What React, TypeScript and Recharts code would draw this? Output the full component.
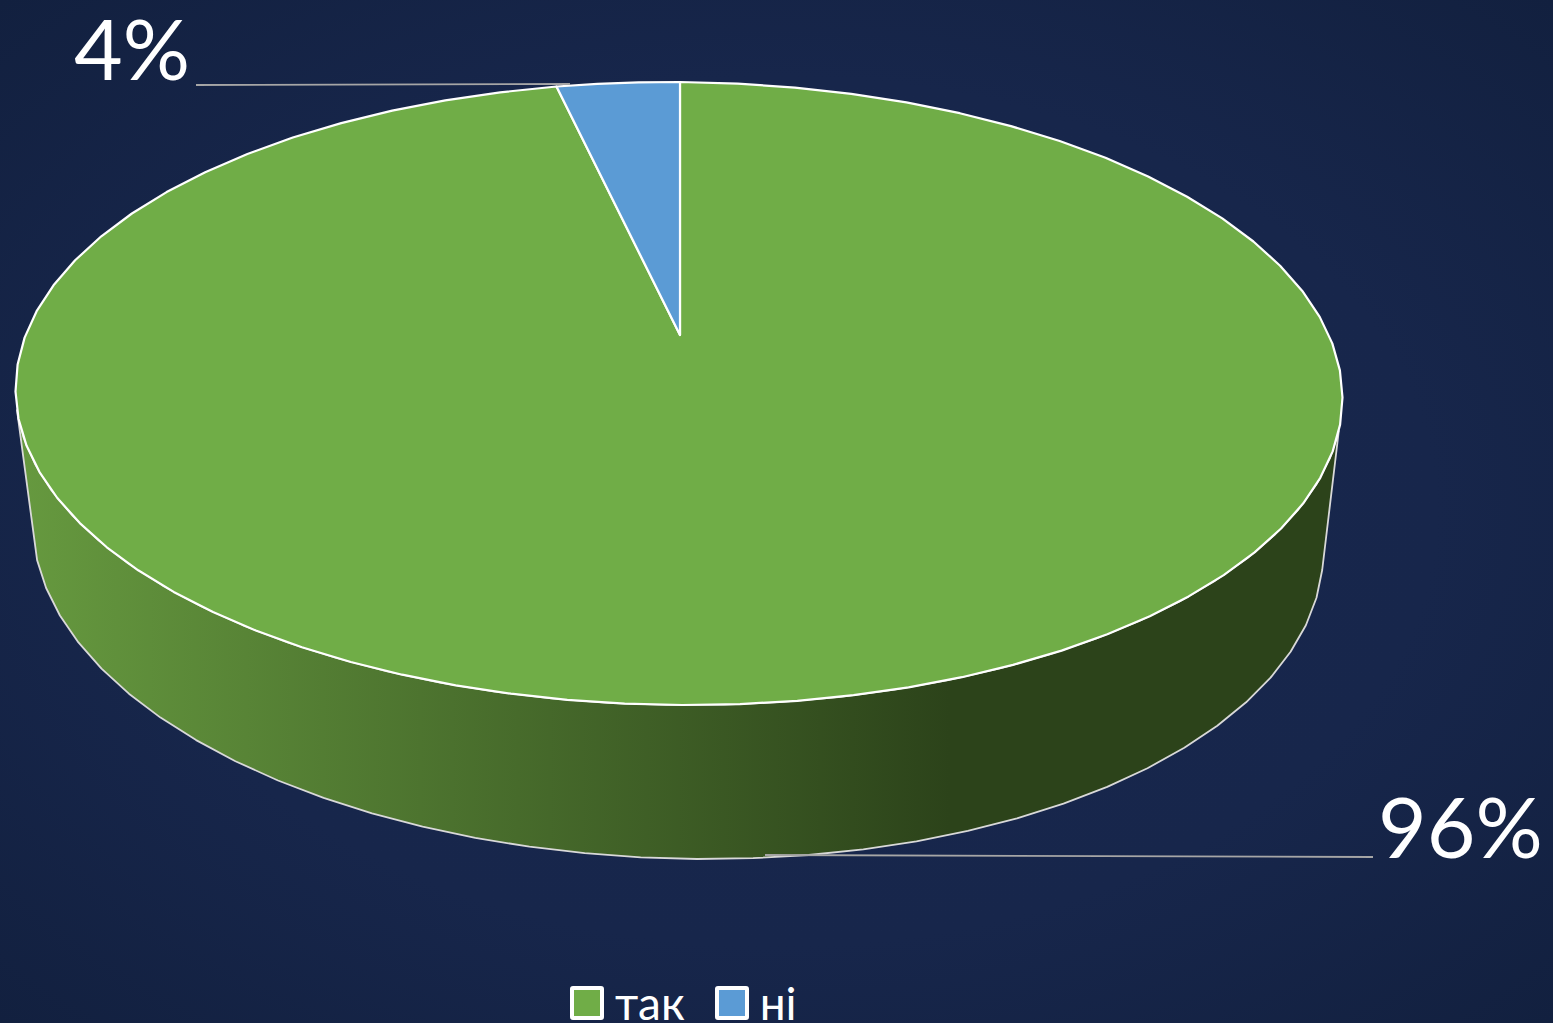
import { PieChart, Pie, Cell, Legend } from 'recharts';

const categories = ['так', 'ні'];
const values = [96.4, 3.6];
const colors = ['#70ad47', '#5b9bd5'];

const pieData = categories.map((name, i) => ({ name, value: values[i] }));

const FONT = 'Lato, "Open Sans", sans-serif';
// vanishing shift of the pie centre on the tilted top face
const TILT = 0.188;
const TOP = { cx: 679, cy: 393.5, ax: 663.5, ay: 5, bx: 1, by: -311.5 };
const BOTTOM = { cx: 678, cy: 537, ax: 645, ay: 5, bx: -19, by: -322 };
const LABEL_SPOTS = [
    { x: 1378, y: 858, x1: 765, y1: 855, x2: 1373, y2: 857 },
    { x: 74, y: 80, x1: 196, y1: 85, x2: 570, y2: 84 },
];

const rad = (d: number) => (d * Math.PI) / 180;

// clock angle on the flat pie -> parameter on the projected rim
function warp(clock: number) {
    const u = Math.sin(rad(clock));
    const v = Math.cos(rad(clock));
    const d = 1 + TILT * v;
    const v2 = (v + TILT) / d;
    const u2 = (u * Math.sqrt(1 - TILT * TILT)) / d;
    let deg = (Math.atan2(u2, v2) * 180) / Math.PI;
    if (deg < 0 || (deg === 0 && clock > 180)) deg += 360;
    if (clock >= 359.999) deg = 360;
    return deg;
}

function rim(e: typeof TOP, phi: number) {
    const s = Math.sin(rad(phi));
    const c = Math.cos(rad(phi));
    return `${(e.cx + e.ax * s + e.bx * c).toFixed(1)} ${(e.cy + e.ay * s + e.by * c).toFixed(1)}`;
}

function arc(e: typeof TOP, from: number, to: number, mapPhi = (p: number) => p) {
    const steps = Math.max(2, Math.ceil(Math.abs(to - from) / 5));
    const pts: string[] = [];
    for (let i = 0; i <= steps; i++) {
        pts.push(rim(e, mapPhi(from + ((to - from) * i) / steps)));
    }
    return pts;
}

function TopSlice(props: any) {
    const from = warp(90 - props.startAngle);
    const to = warp(90 - props.endAngle);
    const pts = arc(TOP, from, to);
    return <path d={`M680 335 L${pts.join(' L')} Z`} fill={props.fill} stroke="#ffffff" strokeWidth={2.2} strokeLinejoin="round" />;
}

function WallSlice(props: any) {
    const lo = Math.max(warp(90 - props.startAngle), 96);
    const hi = Math.min(warp(90 - props.endAngle), 266);
    if (hi <= lo) return <g />;
    const lower = (p: number) => p - 1;
    const upperPts = arc(TOP, lo, hi);
    const lowerPts = arc(BOTTOM, hi, lo, lower);
    return <path d={`M${upperPts.join(' L')} L${lowerPts.join(' L')} Z`} fill="url(#wallShade)" stroke="#d9d9d9" strokeWidth={1.8} strokeLinejoin="round" />;
}

function renderLabel(props: any) {
    const spot = LABEL_SPOTS[props.index];
    return (
        <g>
            <line x1={spot.x1} y1={spot.y1} x2={spot.x2} y2={spot.y2} stroke="#a6a6a6" strokeWidth={1.8} />
            <text x={spot.x} y={spot.y} fill="#ffffff" fontFamily={FONT} fontSize={84} textAnchor="start">
                {`${Math.round(props.percent * 100)}%`}
            </text>
        </g>
    );
}

function renderLegend() {
    return (
        <div style={{ display: 'flex', alignItems: 'center', fontFamily: FONT, fontSize: 46, color: '#ffffff', lineHeight: '40px' }}>
            {categories.map((name, i) => (
                <div key={name} style={{ display: 'flex', alignItems: 'center', marginRight: 30 }}>
                    <span style={{ width: 26, height: 26, background: colors[i], border: '4.5px solid #ffffff', borderRadius: 3, marginRight: 11 }} />
                    <span>{name}</span>
                </div>
            ))}
        </div>
    );
}

export default function App() {
    return (
        <div
            style={{
                position: 'absolute',
                left: 0,
                top: 0,
                width: 1553,
                height: 1023,
                overflow: 'hidden',
                background: 'radial-gradient(ellipse at 50% 50%, #18274f 0%, #17264b 60%, #12203f 100%)',
            }}
        >
            <PieChart width={1553} height={1023} margin={{ top: 0, right: 0, bottom: 0, left: 0 }}>
                <defs>
                    <linearGradient id="wallShade" gradientUnits="userSpaceOnUse" x1={20} y1={0} x2={950} y2={0}>
                        <stop offset="0%" stopColor="#66993f" />
                        <stop offset="100%" stopColor="#2c431a" />
                    </linearGradient>
                </defs>
                <Pie
                    data={pieData}
                    dataKey="value"
                    nameKey="name"
                    cx={680}
                    cy={400}
                    outerRadius={300}
                    startAngle={90}
                    endAngle={-270}
                    legendType="none"
                    shape={WallSlice}
                    isAnimationActive={false}
                />
                <Pie
                    data={pieData}
                    dataKey="value"
                    nameKey="name"
                    cx={680}
                    cy={400}
                    outerRadius={300}
                    startAngle={90}
                    endAngle={-270}
                    shape={TopSlice}
                    label={renderLabel}
                    labelLine={false}
                    isAnimationActive={false}
                >
                    {pieData.map((d, i) => (
                        <Cell key={d.name} fill={colors[i]} />
                    ))}
                </Pie>
                <Legend content={renderLegend} wrapperStyle={{ position: 'absolute', left: 570, top: 983, width: 280 }} />
            </PieChart>
        </div>
    );
}
